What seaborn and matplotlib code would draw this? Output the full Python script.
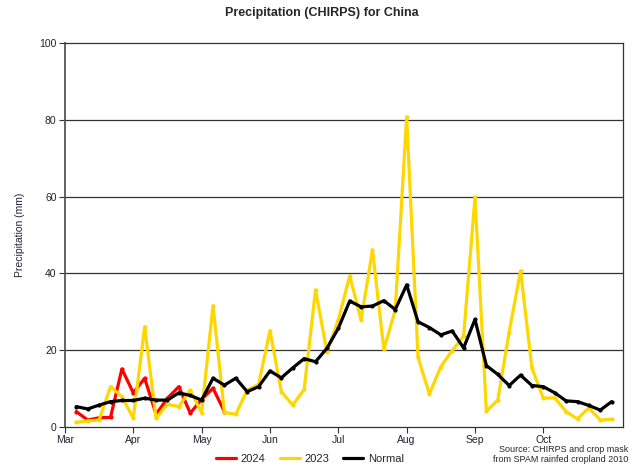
import numpy as np
import pandas as pd
import matplotlib
matplotlib.use("Agg")
import matplotlib.pyplot as plt
import seaborn as sns

# ======================
# DATA (pentads, Mar 1 - Oct 31)
# ======================
months = ["Mar", "Apr", "May", "Jun", "Jul", "Aug", "Sep", "Oct"]

normal = [5.3, 4.7, 5.7, 6.6, 6.9, 6.9, 7.5, 7.0, 7.0, 8.9, 8.2, 7.0,
          12.7, 10.9, 12.7, 9.2, 10.5, 14.6, 12.8, 15.4, 17.8, 17.0, 20.5, 25.7,
          32.8, 31.3, 31.5, 32.9, 30.6, 37.0, 27.4, 25.9, 24.0, 25.0, 20.6, 28.0,
          16.0, 13.7, 10.8, 13.5, 10.8, 10.5, 8.9, 6.8, 6.6, 5.6, 4.4, 6.6]

y2023 = [1.2, 1.6, 1.8, 10.5, 7.9, 2.3, 26.1, 2.3, 5.9, 5.3, 9.6, 3.7,
         31.6, 3.8, 3.3, 9.6, 11.1, 25.1, 9.2, 5.7, 9.8, 35.7, 19.6, 27.9,
         39.4, 27.9, 46.1, 20.2, 30.5, 80.8, 18.1, 8.6, 15.7, 19.9, 23.7, 59.8,
         4.1, 7.0, 24.8, 40.7, 15.3, 7.5, 7.6, 4.0, 2.1, 5.0, 1.8, 2.0]

y2024 = [4.0, 1.8, 2.4, 2.5, 15.1, 8.9, 12.7, 3.3, 7.5, 10.5, 3.6, 7.2,
         10.1, 4.0]

df = pd.concat([
    pd.DataFrame({"pentad": np.arange(1, len(y2024) + 1), "mm": y2024, "series": "2024"}),
    pd.DataFrame({"pentad": np.arange(1, len(y2023) + 1), "mm": y2023, "series": "2023"}),
    pd.DataFrame({"pentad": np.arange(1, len(normal) + 1), "mm": normal, "series": "Normal"}),
])

colors = {"2024": "#ff0000", "2023": "#ffd700", "Normal": "#000000"}

# ======================
# CHART STYLE
# ======================
sns.set_style("white")
plt.rcParams["font.family"] = ["Liberation Sans", "DejaVu Sans"]

fig = plt.figure(figsize=(6.43, 4.69), dpi=100)
ax = fig.add_axes([0.101, 0.0896, 0.868, 0.8185])

sns.lineplot(
    data=df, x="pentad", y="mm", hue="series",
    palette=colors, linewidth=2.3, marker="o", markersize=3,
    markeredgewidth=0, ax=ax, legend=False, zorder=3
)

ax.set_xlim(0, 49)
ax.set_ylim(0, 100)
ax.set_yticks(np.arange(0, 101, 20))
ax.set_xticks(np.arange(0, 48, 6))
ax.set_xticklabels(months)
ax.tick_params(axis="both", labelsize=7.5, length=4, width=0.8,
               direction="out", color="#333333", labelcolor="#222233", pad=2)
ax.tick_params(axis="both", bottom=True, left=True)

for y in [20, 40, 60, 80]:
    ax.axhline(y, color="#333333", linewidth=0.9, zorder=1)

for s in ax.spines.values():
    s.set_color("#333333")
    s.set_linewidth(0.9)
ax.spines["left"].set_color("#555555")
ax.spines["left"].set_linewidth(1.3)

ax.set_xlabel("")
ax.set_ylabel("Precipitation (mm)", fontsize=7.5, labelpad=10, color="#222233")

fig.suptitle("Precipitation (CHIRPS) for China", fontsize=9, fontweight="bold", y=0.985)

handles = [plt.Line2D([0], [0], color=colors[k], linewidth=2.3) for k in ["2024", "2023", "Normal"]]
fig.legend(handles, ["2024", "2023", "Normal"], loc="center", bbox_to_anchor=(0.482, 0.021),
           ncol=3, frameon=False, fontsize=8, handlelength=1.8, columnspacing=1.3,
           handletextpad=0.4, borderpad=0, borderaxespad=0)

fig.text(0.977, 0.031, "Source: CHIRPS and crop mask\nfrom SPAM rainfed cropland 2010",
         ha="right", va="center", fontsize=6.5, linespacing=1.15)

fig.savefig("out.png", dpi=100)
